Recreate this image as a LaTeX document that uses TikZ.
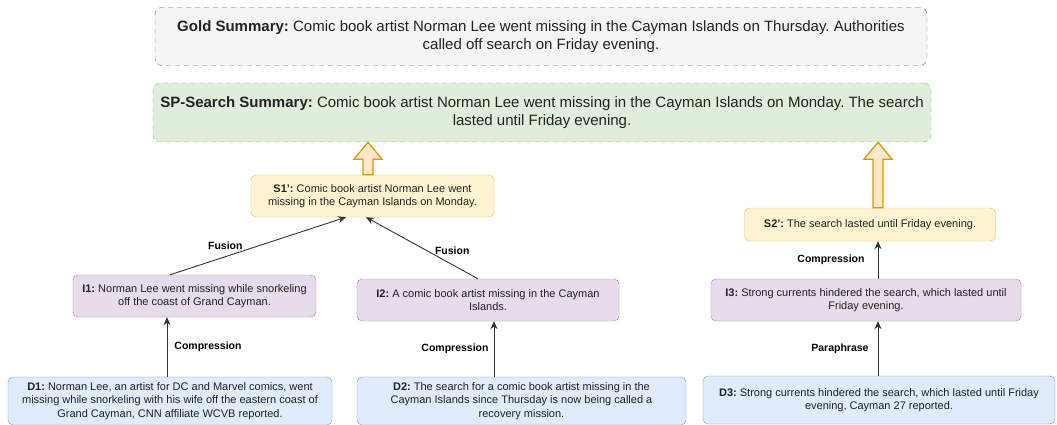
\documentclass[tikz,border=0pt]{standalone}
\usepackage{fontspec}
\setmainfont{Liberation Sans}
\usepackage[HTML]{xcolor}
\usetikzlibrary{arrows.meta, calc}
\frenchspacing

\definecolor{goldfill}{HTML}{F5F5F5}
\definecolor{golddraw}{HTML}{666666}
\definecolor{spfill}{HTML}{DFEDDB}
\definecolor{spdraw}{HTML}{8CC16F}
\definecolor{sfill}{HTML}{FFF3D2}
\definecolor{sdraw}{HTML}{D9BD62}
\definecolor{ifill}{HTML}{E6DCEB}
\definecolor{idraw}{HTML}{A283B0}
\definecolor{dfill}{HTML}{E0EBFB}
\definecolor{ddraw}{HTML}{7A9BCB}
\definecolor{upfill}{HTML}{FFE6CC}
\definecolor{updraw}{HTML}{D79B00}
\definecolor{edgecol}{HTML}{333333}
\definecolor{txt}{HTML}{222222}

\tikzset{
  box/.style={draw, rounded corners=5pt, align=center, inner sep=2pt, text=txt,
    font=\fontsize{11}{13.3}\selectfont},
  sumbox/.style={box, dashed, dash pattern=on 5pt off 4pt, rounded corners=7pt,
    font=\fontsize{15}{18}\selectfont},
  sbox/.style={box, fill=sfill, draw=sdraw},
  ibox/.style={box, fill=ifill, draw=idraw, minimum height=42pt},
  dbox/.style={box, fill=dfill, draw=ddraw, minimum height=48pt},
  flow/.style={draw=edgecol, line width=0.9pt, -{Stealth[length=8pt,width=7pt]}},
  lbl/.style={font=\bfseries\fontsize{10.5}{12}\selectfont, inner sep=1pt},
  bigarrow/.style={draw=updraw, fill=upfill, line width=1.3pt, line join=miter}
}

% hollow up arrow from #1 (bottom middle) to #2 (tip)
\newcommand\uparr[2]{%
  \draw[bigarrow] ($(#1)+(-5,0)$) -- ($(#2)+(-5,17)$) -- ($(#2)+(-14,17)$) -- (#2)
    -- ($(#2)+(14,17)$) -- ($(#2)+(5,17)$) -- ($(#1)+(5,0)$) -- cycle;}

\begin{document}
\begin{tikzpicture}[x=1pt,y=-1pt]
\useasboundingbox (0,0) rectangle (1057,425);

% --- summaries ---
\node[sumbox, fill=goldfill, draw=golddraw, minimum width=772pt, minimum height=58pt] (gold) at (541,36.5)
  {\textbf{Gold Summary:} Comic book artist Norman Lee went missing in the Cayman Islands on Thursday. Authorities\\called off search on Friday evening.};
\node[sumbox, fill=spfill, draw=spdraw, minimum width=778pt, minimum height=59pt] (sp) at (542,112.5)
  {\textbf{SP-Search Summary:} Comic book artist Norman Lee went missing in the Cayman Islands on Monday. The search\\lasted until Friday evening.};

% --- summary sentences ---
\node[sbox, minimum width=243pt, minimum height=42pt] (s1) at (372.5,196)
  {\textbf{S1':} Comic book artist Norman Lee went\\missing in the Cayman Islands on Monday.};
\node[sbox, minimum width=251pt, minimum height=33pt] (s2) at (870,224.5)
  {\textbf{S2':} The search lasted until Friday evening.};

% --- intermediate sentences ---
\node[ibox, minimum width=243pt] (i1) at (194.5,296)
  {\textbf{I1:} Norman Lee went missing while snorkeling\\off the coast of Grand Cayman.};
\node[ibox, minimum width=262pt] (i2) at (488,300)
  {\textbf{I2:} A comic book artist missing in the Cayman\\Islands.};
\node[ibox, minimum width=310pt] (i3) at (866,300)
  {\textbf{I3:} Strong currents hindered the search, which lasted until\\Friday evening.};

% --- documents ---
\node[dbox, minimum width=324pt] (d1) at (170,401)
  {\textbf{D1:} Norman Lee, an artist for DC and Marvel comics, went\\missing while snorkeling with his wife off the eastern coast of\\Grand Cayman, CNN affiliate WCVB reported.};
\node[dbox, minimum width=329pt] (d2) at (521.5,401)
  {\textbf{D2:} The search for a comic book artist missing in the\\Cayman Islands since Thursday is now being called a\\recovery mission.};
\node[dbox, minimum width=352pt] (d3) at (879,400)
  {\textbf{D3:} Strong currents hindered the search, which lasted until Friday\\evening, Cayman 27 reported.};

% --- operations ---
\draw[flow] ([xshift=-3pt]d1.north) -- ([xshift=-27.5pt]i1.south)
  node[lbl, midway, right=6pt] {Compression};
\draw[flow] ([xshift=-27.5pt]d2.north) -- ([xshift=6pt]i2.south)
  node[lbl, midway, left=4pt] {Compression};
\draw[flow] ([xshift=-1pt]d3.north) -- ([xshift=12pt]i3.south)
  node[lbl, midway, left=8pt] {Paraphrase};
\draw[flow] ([xshift=12pt]i3.north) -- ([xshift=8pt]s2.south)
  node[lbl, midway, left=12pt] {Compression};
\draw[flow] ([xshift=-24.5pt]i1.north) -- ([xshift=-26.5pt]s1.south)
  node[lbl, midway, left=14pt] {Fusion};
\draw[flow] ([xshift=-10pt]i2.north) -- ([xshift=-6.5pt]s1.south)
  node[lbl, pos=0.45, right=6pt] {Fusion};

% --- into the summary ---
\coordinate (b1) at ([xshift=-4.5pt]s1.north);
\coordinate (t1) at (b1 |- sp.south);
\coordinate (b2) at ([xshift=8pt]s2.north);
\coordinate (t2) at (b2 |- sp.south);
\uparr{b1}{t1}
\uparr{b2}{t2}
\end{tikzpicture}
\end{document}
